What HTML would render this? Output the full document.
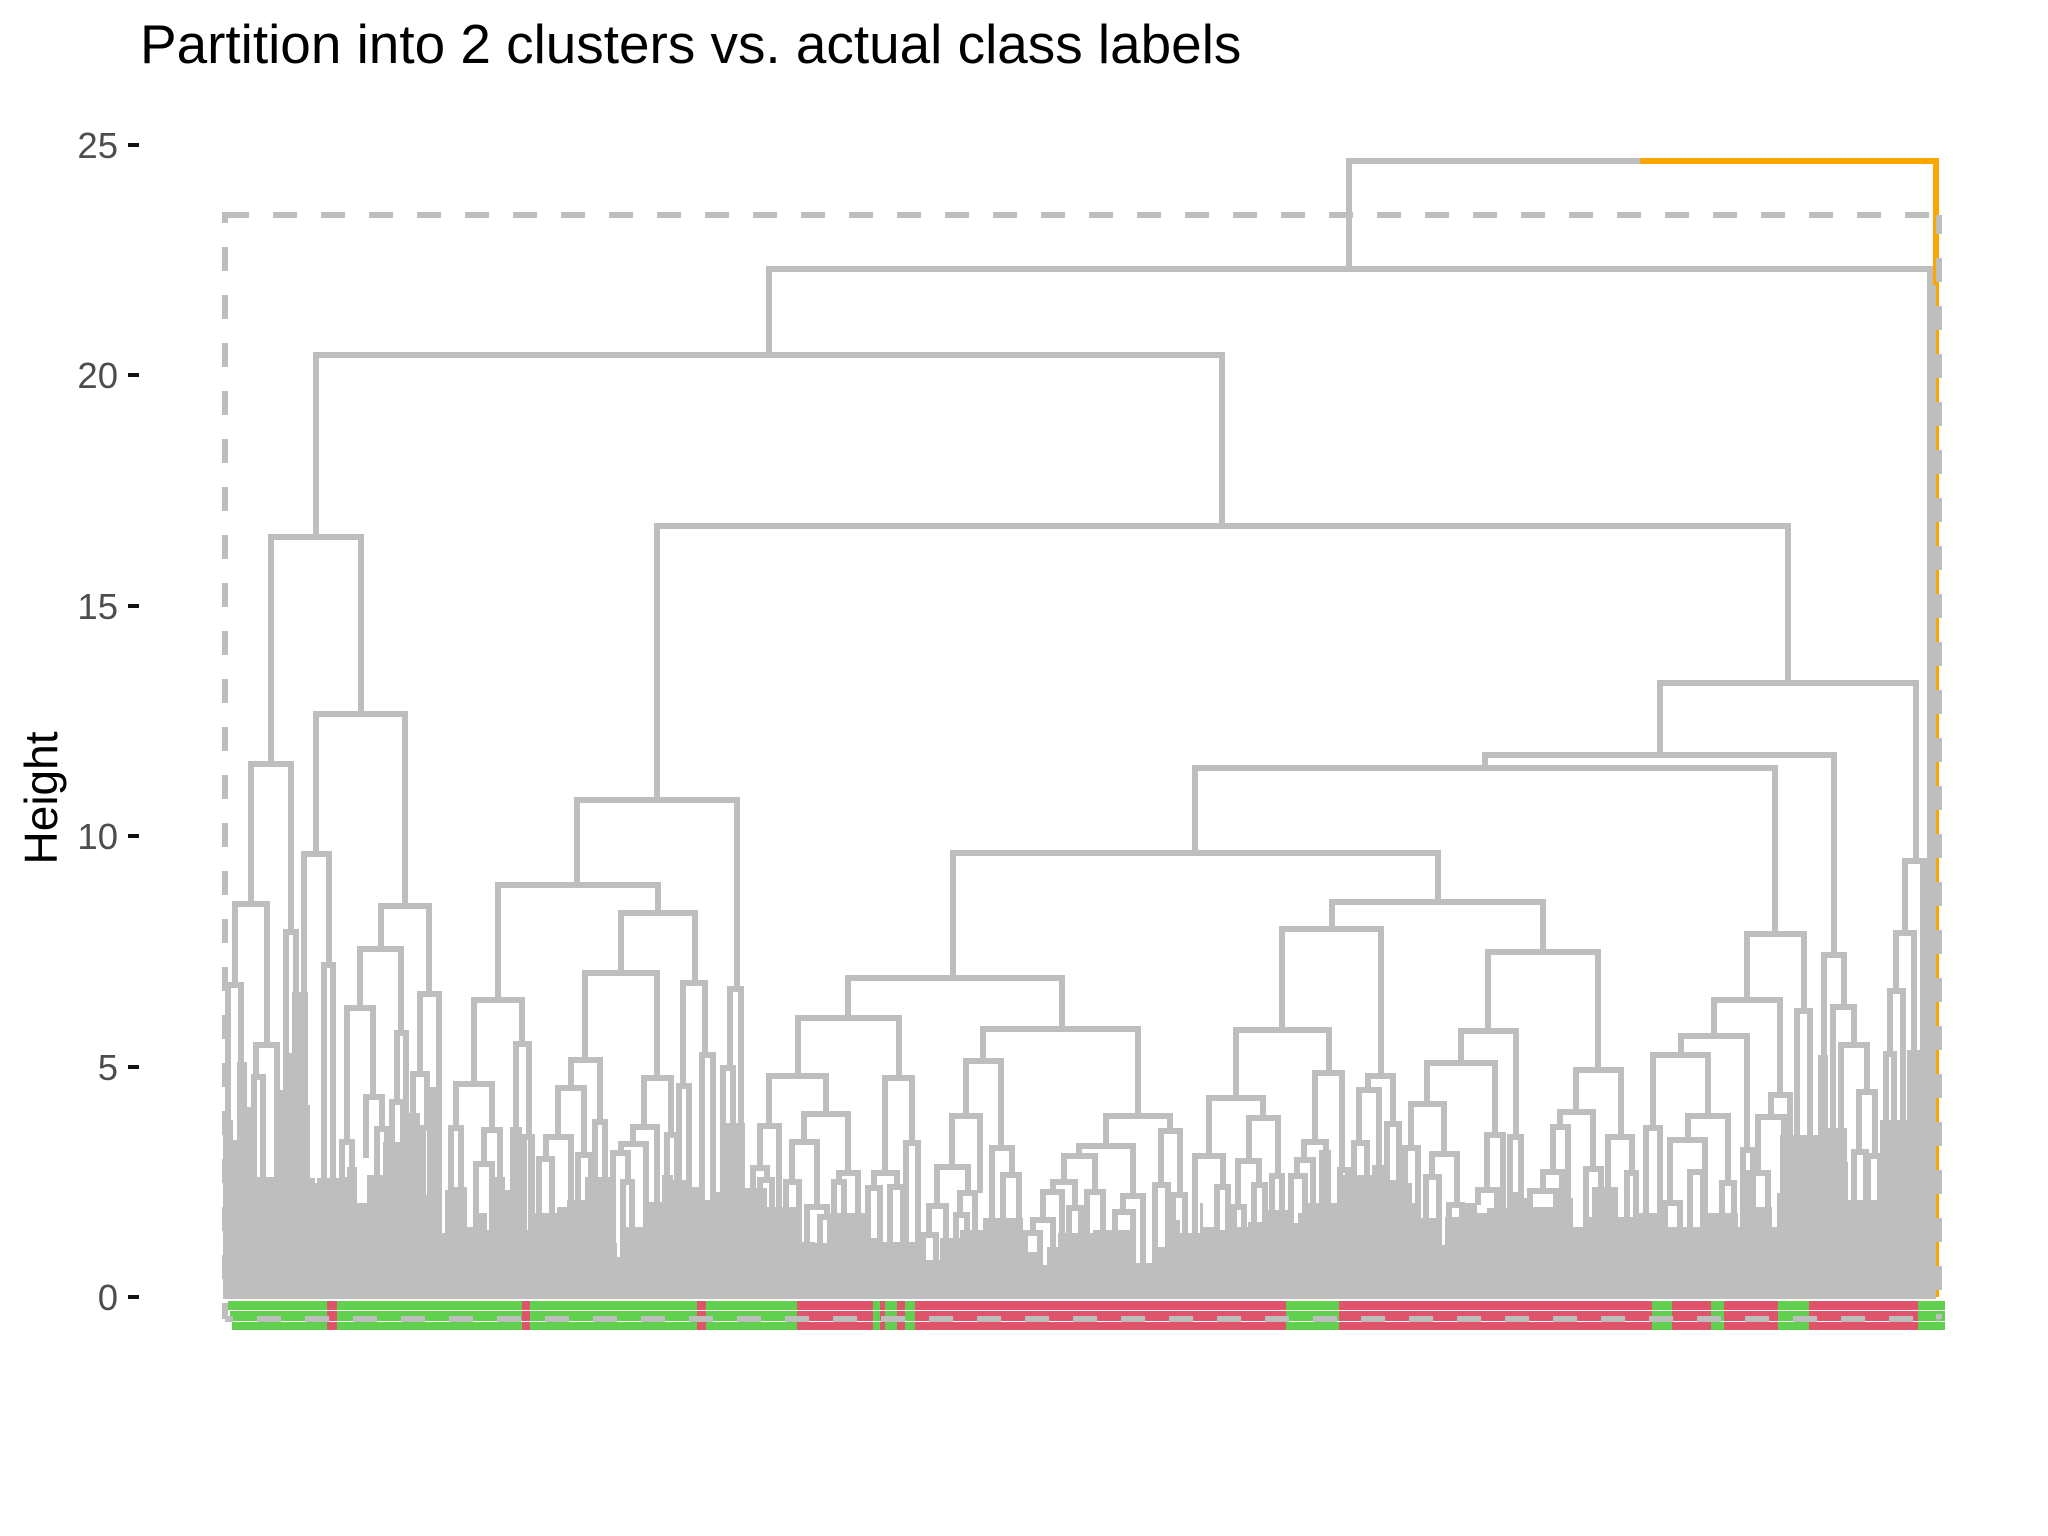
<!DOCTYPE html>
<html lang="en">
<head>
<meta charset="utf-8">
<title>Partition into 2 clusters vs. actual class labels</title>
<style>
html,body{margin:0;padding:0;background:#fff;width:2048px;height:1536px;overflow:hidden}
svg{display:block}
text{font-family:"Liberation Sans",Arial,sans-serif}
</style>
</head>
<body>
<svg id="chart" xmlns="http://www.w3.org/2000/svg" width="2048" height="1536" viewBox="0 0 2048 1536">
<rect x="0" y="0" width="2048" height="1536" fill="#ffffff"/>
<text x="140" y="63" font-size="54.9" fill="#000000">Partition into 2 clusters vs. actual class labels</text>
<text x="57" y="798" font-size="46" fill="#000000" text-anchor="middle" transform="rotate(-90 57 798)">Height</text>
<g id="axis"></g>
<g id="root-layer"></g>
<g id="mass-layer" shape-rendering="crispEdges"></g>
<g id="link-layer" shape-rendering="crispEdges"></g>
<g id="label-layer" shape-rendering="crispEdges"></g>
<g id="rect-layer" shape-rendering="crispEdges"></g>
</svg>
<script>
// Axis values
const yTicks = [0, 5, 10, 15, 20, 25];

// Root merge of the tree (leaf position, height)
const rootLeft = 1123;
const rootRight = 1710;
const rootHeight = 24.64;
const rootLeftEnd = 22.30;
const rootSplitLeaf = 1414;

// Cut rectangle around the two clusters
const cutHeight = 23.47;
const cutLeftLeaf = -1;
const cutRightLeaf = 1713;

// Readable merges: left leaf position, right leaf position, merge height, left/right child heights
const linkLeft = [
543,90,431,45,25,60,90,78,98,9,
2,30,28,155,134,121,140,151,116,171,
166,194,187,197,351,272,248,230,225,258,
250,290,298,395,359,345,332,320,313,352,
369,418,407,395,387,397,441,457,453,476,
504,497,1434,1259,969,727,1106,1056,1010,983,
969,991,1023,1012,1006,1028,1046,1089,1078,1071,
1065,1114,1142,1133,1128,1161,1262,1235,1201,1185,
1179,1206,1200,1223,1261,1252,1284,1350,1334,1327,
1317,1304,1360,1382,1401,622,572,543,534,527,
534,578,566,560,581,594,613,608,659,648,
642,664,680,757,740,726,711,703,697,734,
730,766,777,880,853,838,827,817,807,799,
843,861,897,889,935,929,947,1521,1488,1455,
1517,1427,1420,1462,1444,1439,1464,1496,1545,1532,
1522,1571,1598,1607,1615,1633,1628,1642,1679,1670,
1664,1660,1684];
const linkRight = [
1704,996,1562,135,65,70,179,103,107,41,
15,51,37,203,175,147,156,161,126,180,
177,213,201,204,511,432,296,266,235,274,
266,303,306,469,431,374,358,345,326,365,
379,445,431,420,402,406,451,479,463,487,
515,507,1690,1608,1549,1212,1317,1155,1103,1037,
997,1002,1052,1033,1018,1039,1056,1116,1100,1087,
1079,1122,1167,1153,1141,1173,1372,1290,1269,1218,
1192,1231,1213,1236,1277,1271,1295,1395,1367,1342,
1336,1330,1375,1406,1410,836,673,600,553,541,
546,622,591,573,601,604,632,618,686,671,
654,677,692,912,775,754,742,720,710,749,
741,786,793,944,907,869,849,836,827,814,
855,877,917,907,954,942,959,1578,1554,1521,
1527,1482,1434,1502,1479,1454,1477,1508,1564,1558,
1542,1584,1618,1628,1641,1649,1640,1654,1697,1688,
1677,1668,1694];
const linkHeight = [
22.30,20.43,16.72,16.49,11.56,7.92,12.65,9.61,7.20,8.52,
6.77,5.47,4.77,8.48,7.55,6.27,4.34,3.64,3.36,5.73,
4.23,6.57,4.84,3.67,10.78,8.94,6.44,4.62,3.67,3.62,
2.89,5.49,3.47,8.33,7.03,5.14,4.53,3.47,2.99,3.08,
3.80,4.75,3.69,3.32,3.12,2.49,3.51,6.81,4.58,5.25,
6.68,4.97,13.32,11.76,11.48,9.63,8.57,7.98,5.79,4.32,
3.06,2.39,3.88,2.95,1.95,2.43,2.62,4.86,3.36,2.97,
2.62,2.75,4.79,4.49,3.34,3.75,7.48,5.77,5.08,4.19,
3.23,3.10,2.60,2.00,3.51,2.32,3.47,4.92,4.01,3.69,
2.71,2.30,2.78,3.47,2.69,6.92,6.05,4.79,3.71,2.80,
2.54,3.97,3.36,2.49,1.95,1.74,2.69,2.49,4.75,2.69,
2.36,2.39,3.34,5.81,5.12,3.93,2.82,1.98,1.34,2.26,
1.78,3.23,2.65,3.93,3.28,3.06,2.49,2.28,1.67,1.39,
1.93,2.28,2.19,1.84,3.60,2.43,2.21,7.87,6.44,5.66,
3.19,5.25,3.67,3.93,3.41,2.04,2.71,2.47,4.38,3.90,
2.69,6.20,7.42,6.29,5.47,4.45,3.15,3.06,9.46,7.90,
6.64,5.27,5.29];
const linkLeftEnd = [
20.43,16.49,10.78,11.56,8.52,0.7,9.61,0.7,0.7,6.77,
0.7,4.77,0.7,7.55,6.27,3.36,3.02,0.7,0.7,4.23,
0.7,4.84,0.7,0.7,8.94,6.44,4.62,3.67,0.7,2.89,
0.7,0.7,0.7,7.03,5.14,4.53,3.47,2.99,0.7,0.7,
0.7,3.69,3.32,3.12,0.7,0.7,0.7,4.58,0.7,0.7,
4.97,0.7,11.76,11.48,9.63,6.92,7.98,5.79,4.32,3.06,
0.7,0.7,2.95,1.95,0.7,0.7,0.7,3.36,2.97,2.62,
0.7,0.7,4.49,3.34,0.7,0.7,5.77,5.08,4.19,3.23,
0.7,2.60,0.7,0.7,2.32,2.00,0.7,4.01,3.69,2.71,
2.30,0.7,0.7,0.7,0.7,6.05,4.79,3.71,2.80,0.7,
0.7,3.36,2.49,0.7,0.7,0.7,2.49,0.7,2.69,2.36,
0.7,0.7,0.7,5.12,3.93,2.82,1.98,1.34,0.7,1.78,
0.7,0.7,0.7,3.28,3.06,2.49,2.28,1.67,1.39,0.7,
0.7,0.7,1.84,0.7,2.43,0.7,0.7,6.44,5.66,5.25,
0.7,3.67,0.7,3.41,2.04,0.7,0.7,0.7,3.90,2.69,
0.7,0.7,5.25,0.7,0.7,3.15,0.7,0.7,7.90,6.64,
5.27,0.7,0.7];
const linkRightEnd = [
9.52,16.72,13.32,12.65,7.92,0.7,8.48,7.20,0.7,5.47,
0.7,0.7,0.7,6.57,5.73,4.34,3.64,0.7,0.7,0.7,
0.7,0.7,3.67,0.7,6.68,8.33,5.49,3.62,0.7,0.7,
0.7,3.47,0.7,6.81,4.75,3.80,3.08,0.7,0.7,0.7,
0.7,3.51,0.7,0.7,2.49,0.7,0.7,5.25,0.7,0.7,
0.7,0.7,9.46,7.42,7.87,8.57,7.48,4.79,4.86,3.88,
2.39,0.7,2.62,2.43,0.7,0.7,0.7,2.75,0.7,0.7,
0.7,0.7,3.75,0.7,0.7,0.7,4.92,3.47,3.51,3.10,
0.7,2.00,0.7,0.7,0.7,0.7,0.7,3.47,2.78,0.7,
0.7,0.7,0.7,2.69,0.7,5.81,4.75,3.97,0.7,2.54,
0.7,2.69,1.95,0.7,1.74,0.7,0.7,0.7,3.34,2.39,
0.7,0.7,0.7,3.93,3.23,2.26,2.26,0.7,0.7,0.7,
0.7,2.65,0.7,3.60,2.19,2.28,1.93,0.7,0.7,0.7,
0.7,0.7,0.7,0.7,2.21,0.7,0.7,6.20,4.38,3.19,
0.7,3.93,0.7,2.47,0.7,0.7,0.7,0.7,0.7,0.7,
0.7,0.7,6.29,5.47,4.45,3.06,0.7,0.7,0.7,5.29,
0.7,0.7,0.7];

// Dense lower merges: top height of the merged mass across runs of leaves
const massStartLeaf = -3;
const massEndLeaf = [
7,11,21,26,29,51,62,66,82,84,89,91,114,121,131,141,157,174,194,197,
201,204,216,219,226,241,251,261,264,279,284,296,302,309,331,341,359,384,391,394,
421,436,447,464,474,489,499,519,541,576,589,601,639,656,694,714,734,757,797,817,
821,832,867,904,926,941,954,974,977,991,1004,1011,1022,1041,1062,1072,1081,1093,1105,1117,
1146,1161,1174,1186,1194,1216,1219,1239,1251,1261,1281,1294,1304,1327,1347,1357,1366,1392,1411,1441,
1474,1477,1512,1517,1546,1551,1554,1592,1602,1621,1622,1654,1687,1695,1701,1707,1710];
const massTopHeight = [
3.84,3.41,5.10,4.12,3.02,2.60,4.49,5.29,6.62,4.16,2.58,2.47,2.58,2.60,2.82,2.04,2.65,3.36,3.99,3.69,
2.21,3.04,4.56,1.39,2.32,2.39,1.52,1.82,1.45,2.60,2.32,3.69,1.45,3.47,1.82,1.95,2.10,2.60,1.17,0.87,
1.52,2.06,2.65,2.54,2.39,2.10,2.28,3.77,2.36,1.95,1.19,1.17,1.82,1.28,1.19,0.80,1.28,1.45,1.71,0.98,
0.69,1.08,1.39,1.45,0.74,1.08,1.67,1.39,2.04,1.52,1.45,2.00,1.52,1.63,1.89,1.61,1.82,2.04,3.19,2.04,
2.65,2.86,2.54,2.47,2.04,1.71,1.13,1.74,2.04,1.82,1.93,2.28,2.15,1.95,2.15,1.52,1.74,2.39,1.74,1.82,
1.52,1.30,1.82,1.52,1.95,1.52,2.26,3.51,5.25,3.67,2.93,2.10,3.84,5.36,9.52,22.30,21.95];

// Actual class along the leaves (alternating runs)
const classRunEnd = [101,111,296,304,471,480,571,647,654,659,671,679,689,1060,1113,1426,1446,1485,1498,1552,1583,1692,1719];
const classRunValue = [1,2,1,2,1,2,1,2,1,2,1,2,1,2,1,2,1,2,1,2,1,2,1];

// Axis functions
const xLeaf = v => Math.round(226 + v);
const yHeight = v => Math.round(1297 - v * 46.1);

const SVG_NS = 'http://www.w3.org/2000/svg';
const GRAY = '#BEBEBE';
const ORANGE = '#FFA500';
const CLASS_COLOR = {1: '#61D04F', 2: '#DF536B'};
const axisLayer = document.getElementById('axis');
const rootLayer = document.getElementById('root-layer');
const massLayer = document.getElementById('mass-layer');
const linkLayer = document.getElementById('link-layer');
const labelLayer = document.getElementById('label-layer');
const rectLayer = document.getElementById('rect-layer');

function make(tag, parent, attrs) {
  const el = document.createElementNS(SVG_NS, tag);
  for (const key in attrs) el.setAttribute(key, attrs[key]);
  parent.appendChild(el);
  return el;
}

// Y axis
yTicks.forEach(tick => {
  const y = yHeight(tick);
  const mark = make('rect', axisLayer, {x: 128, y: y - 2, width: 11, height: 4, fill: '#111111', 'shape-rendering': 'crispEdges'});
  
  
  const label = make('text', axisLayer, {x: 118, y: y + 13, 'font-size': 36.5, fill: '#4D4D4D', 'text-anchor': 'end'});
  label.textContent = String(tick);
  
  
});

// Root link: orange right branch under gray
const rootOrange = make('path', rootLayer, {
  d: `M${xLeaf(rootSplitLeaf)} ${yHeight(rootHeight)}H${xLeaf(rootRight)}V${yHeight(0)}`,
  fill: 'none', stroke: ORANGE, 'stroke-width': 6, 'shape-rendering': 'crispEdges'
});


const rootGray = make('path', rootLayer, {
  d: `M${xLeaf(rootLeft)} ${yHeight(rootLeftEnd)}V${yHeight(rootHeight)}H${xLeaf(rootSplitLeaf)}`,
  fill: 'none', stroke: GRAY, 'stroke-width': 6, 'shape-rendering': 'crispEdges'
});



// Dense merges
massEndLeaf.forEach((end, i) => {
  const start = i === 0 ? massStartLeaf : massEndLeaf[i - 1];
  const top = yHeight(massTopHeight[i]);
  const bar = make('rect', massLayer, {
    x: xLeaf(start), y: top, width: xLeaf(end) - xLeaf(start), height: yHeight(0) + 2 - top, fill: GRAY
  });
  
  
});

// Readable merges
linkLeft.forEach((left, i) => {
  const d = `M${xLeaf(left)} ${yHeight(linkLeftEnd[i])}V${yHeight(linkHeight[i])}H${xLeaf(linkRight[i])}V${yHeight(linkRightEnd[i])}`;
  const link = make('path', linkLayer, {d: d, fill: 'none', stroke: GRAY, 'stroke-width': 6, 'stroke-linejoin': 'miter'});
  
  
});

// Leaf label bands coloured by actual class
const bandRows = [
  {top: 1301, height: 9, inset: 2},
  {top: 1311, height: 10, inset: 4},
  {top: 1322, height: 8, inset: 6}
];
bandRows.forEach(row => {
  classRunEnd.forEach((end, i) => {
    const start = i === 0 ? 0 : classRunEnd[i - 1];
    const x0 = xLeaf(start) + (i === 0 ? row.inset : 0);
    const x1 = xLeaf(end);
    const band = make('rect', labelLayer, {x: x0, y: row.top, width: x1 - x0, height: row.height, fill: CLASS_COLOR[classRunValue[i]]});
    
    
  });
});

// Dashed cluster rectangle: four sides with their own dash phase
const rectTop = yHeight(cutHeight);
const rectBottom = yHeight(0) + 22;
const rectLeft = xLeaf(cutLeftLeaf);
const rectRight = xLeaf(cutRightLeaf);
[
  {d: `M${rectLeft} ${rectTop}H${rectRight}`, offset: 0},
  {d: `M${rectRight} ${rectTop}V${rectBottom}`, offset: 5},
  {d: `M${rectLeft} ${rectBottom}H${rectRight}`, offset: 16},
  {d: `M${rectLeft} ${rectTop - 3}V${rectBottom}`, offset: 13}
].forEach(side => {
  const line = make('path', rectLayer, {
    d: side.d, fill: 'none', stroke: GRAY, 'stroke-width': 6,
    'stroke-dasharray': '24 24', 'stroke-dashoffset': side.offset
  });
  
  
});
</script>
</body>
</html>
